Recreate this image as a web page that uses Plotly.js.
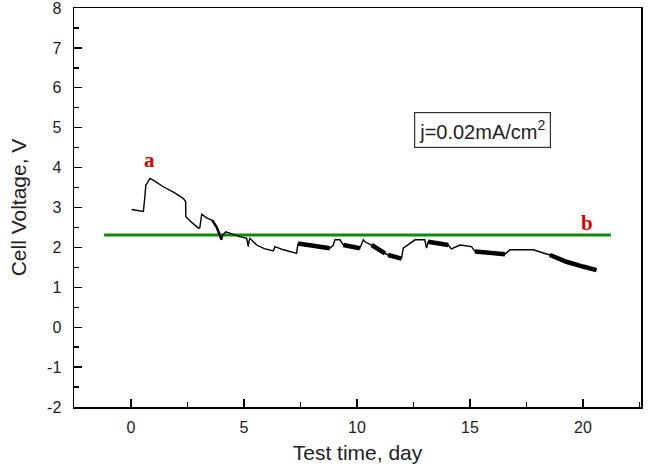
<!DOCTYPE html>
<html>
<head>
<meta charset="utf-8">
<script src="https://cdn.plot.ly/plotly-3.0.1.min.js"></script>
<style>html,body{margin:0;padding:0;background:#fff;}#chart{width:652px;height:464px;}</style>
</head>
<body>
<div id="chart"></div>
<script>
// Main voltage trace (day, V)
var day = [0.03,0.55,0.62,0.66,0.84,1.0,1.43,1.9,2.31,2.42,2.43,2.7,3.0,3.05,3.13,3.35,3.6,3.8,4.01,4.05,4.2,4.5,4.82,5.12,5.15,5.19,5.22,5.27,5.56,5.9,6.3,6.33,6.37,6.75,7.33,7.36,7.4,8.0,8.8,8.95,9.03,9.25,9.4,9.8,10.13,10.28,10.35,10.65,11.0,11.24,11.38,11.7,11.97,12.05,12.3,12.57,13.0,13.04,13.08,13.15,13.6,14.04,14.18,14.56,15.07,15.22,15.9,16.55,16.77,17.3,17.8,18.54,19.27,20.0,20.6];
var volt = [2.95,2.9,3.3,3.56,3.73,3.68,3.52,3.38,3.23,3.15,2.77,2.62,2.48,2.5,2.83,2.74,2.68,2.5,2.19,2.3,2.39,2.33,2.27,2.23,2.1,2.02,2.15,2.23,2.06,1.97,1.91,1.95,2.02,1.94,1.85,1.98,2.1,2.06,1.98,2.05,2.19,2.19,2.06,2.02,1.98,2.19,2.14,2.06,1.95,1.85,1.81,1.77,1.72,1.98,2.08,2.19,2.19,2.1,1.98,2.14,2.1,2.06,1.96,2.06,2.02,1.9,1.87,1.83,1.94,1.94,1.94,1.81,1.64,1.52,1.43];

// Noisy (thick) segments of the trace
var bandDay  = [7.4,8.0,8.8,null,9.4,9.8,10.13,null,10.65,11.0,11.24,null,11.38,11.7,11.97,null,13.15,13.6,14.04,null,15.22,15.9,16.55,null,18.54,19.27,20.0,20.6];
var bandVolt = [2.1,2.06,1.98,null,2.06,2.02,1.98,null,2.06,1.95,1.85,null,1.81,1.77,1.72,null,2.14,2.1,2.06,null,1.9,1.87,1.83,null,1.81,1.64,1.52,1.43];
var bandDay2  = [3.6,3.8,4.01];
var bandVolt2 = [2.68,2.5,2.19];

// Reference line b
var refDay = [-1.19, 21.24];
var refVolt = [2.31, 2.31];

var xTicks = [0, 5, 10, 15, 20];
var yTicks = [-2, -1, 0, 1, 2, 3, 4, 5, 6, 7, 8];

var traces = [
  {x: refDay, y: refVolt, mode: 'lines', line: {color: '#0f8a0f', width: 3}},
  {x: day, y: volt, mode: 'lines', line: {color: '#000', width: 1.4}},
  {x: bandDay, y: bandVolt, mode: 'lines', line: {color: '#000', width: 4.5}, connectgaps: false},
  {x: bandDay2, y: bandVolt2, mode: 'lines', line: {color: '#000', width: 2.5}}
];

var axisFont = {family: 'Liberation Sans, Arial, sans-serif', size: 16, color: '#222'};
var titleFont = {family: 'Liberation Sans, Arial, sans-serif', size: 21, color: '#222'};
var layout = {
  width: 652, height: 464,
  margin: {l: 74, r: 11, t: 8, b: 57},
  paper_bgcolor: '#fff', plot_bgcolor: '#fff',
  showlegend: false,
  xaxis: {
    range: [-2.52, 22.57], tickvals: xTicks, ticktext: xTicks.map(String),
    ticks: 'inside', ticklen: 8, tickwidth: 1.3, tickcolor: '#000',
    minor: {dtick: 2.5, tick0: 0, ticks: 'inside', ticklen: 5, tickwidth: 1.3, tickcolor: '#000'},
    showline: true, linecolor: '#000', linewidth: 1.5, mirror: true,
    showgrid: false, zeroline: false, tickfont: axisFont, ticklabelstandoff: 5,
    ticklabeloverflow: 'allow',
    title: {text: 'Test time, day', font: titleFont, standoff: 13}
  },
  yaxis: {
    range: [-2, 8], tickvals: yTicks, ticktext: yTicks.map(String),
    ticks: 'inside', ticklen: 8, tickwidth: 1.3, tickcolor: '#000',
    minor: {dtick: 0.5, tick0: 0, ticks: 'inside', ticklen: 5, tickwidth: 1.3, tickcolor: '#000'},
    showline: true, linecolor: '#000', linewidth: 1.5, mirror: true,
    showgrid: false, zeroline: false, tickfont: axisFont, ticklabelstandoff: 8,
    ticklabeloverflow: 'allow',
    title: {text: 'Cell Voltage, V', font: titleFont, standoff: 14}
  },
  annotations: [
    {x: 0.84, y: 4.19, xref: 'x', yref: 'y', text: '<b>a</b>', showarrow: false,
     font: {family: 'Liberation Serif, Times New Roman, serif', size: 21, color: '#e00000'}},
    {x: 20.2, y: 2.62, xref: 'x', yref: 'y', text: '<b>b</b>', showarrow: false,
     font: {family: 'Liberation Serif, Times New Roman, serif', size: 21, color: '#e00000'}},
    {x: 15.55, y: 4.94, xref: 'x', yref: 'y', text: 'j=0.02mA/cm<sup>2</sup>', showarrow: false,
     font: {family: 'Liberation Sans, Arial, sans-serif', size: 20, color: '#222'},
     bordercolor: '#333', borderwidth: 1.2, borderpad: 4, bgcolor: '#fff'}
  ]
};
Plotly.newPlot('chart', traces, layout, {displayModeBar: false, staticPlot: true});
</script>
</body>
</html>
